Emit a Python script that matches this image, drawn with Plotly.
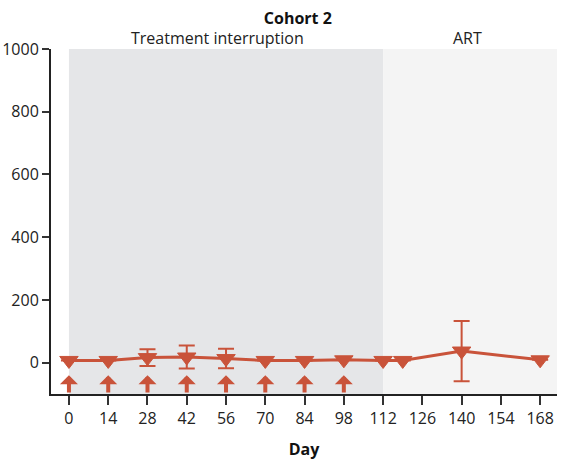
import plotly.graph_objects as go

days = [0, 14, 28, 42, 56, 70, 84, 98, 112, 119, 140, 168]
values = [7, 7, 16, 18, 13, 7, 7, 9, 7, 7, 37, 9]
err = [0, 0, 27, 37, 31, 0, 0, 0, 0, 0, 96, 0]
dose_days = [0, 14, 28, 42, 56, 70, 84, 98]
x_ticks = [0, 14, 28, 42, 56, 70, 84, 98, 112, 126, 140, 154, 168]
y_ticks = [0, 200, 400, 600, 800, 1000]
phases = ["Treatment interruption", "ART"]
phase_bounds = [(0, 112), (112, 174)]
phase_colors = ["#e5e6e8", "#f4f4f4"]

RED = "#c9533a"
FONT = "Open Sans"
YMIN, YMAX = -100, 1000

fig = go.Figure()

for (x0, x1), col in zip(phase_bounds, phase_colors):
    fig.add_shape(type="rect", xref="x", yref="y", x0=x0, x1=x1, y0=YMIN, y1=YMAX,
                  fillcolor=col, line_width=0, layer="below")

fig.add_trace(go.Scatter(
    x=days, y=values, mode="lines+markers",
    line=dict(color=RED, width=3),
    marker=dict(symbol="triangle-down", size=16, color=RED, line=dict(width=1, color=RED)),
    error_y=dict(type="data", array=err, visible=True, color=RED, thickness=2, width=8),
    showlegend=False, cliponaxis=False,
))

for d in dose_days:
    fig.add_annotation(x=d, y=-40, ax=d, ay=YMIN, xref="x", yref="y", axref="x", ayref="y",
                       showarrow=True, arrowhead=1, arrowsize=0.75, arrowwidth=4,
                       arrowcolor=RED, text="")

for (x0, x1), name in zip(phase_bounds, phases):
    fig.add_annotation(x=(x0 + x1) / 2 - (3 if name != "ART" else 1), y=YMAX, xref="x", yref="y",
                       text=name, showarrow=False, yanchor="bottom", yshift=-2,
                       font=dict(family=FONT, size=16, color="#222"))

fig.update_layout(
    width=562, height=460,
    margin=dict(l=51, r=5, t=49, b=66, autoexpand=False),
    paper_bgcolor="white", plot_bgcolor="white",
    title=dict(text="<b>Cohort 2</b>", x=0.53, xanchor="center", y=0.961, yanchor="middle",
               font=dict(family=FONT, size=16, color="#111")),
    font=dict(family=FONT, size=16, color="#222"),
    xaxis=dict(range=[-6.4, 174], tickvals=x_ticks, ticks="outside", ticklen=9,
               tickwidth=1.5, tickcolor="#333", showline=True, linecolor="#222", linewidth=2,
               showgrid=False, zeroline=False, automargin=False,
               title=dict(text="<b>Day</b>", font=dict(family=FONT, size=16, color="#111"), standoff=16)),
    yaxis=dict(range=[YMIN, YMAX], tickvals=y_ticks, ticks="outside", ticklen=7,
               tickwidth=1.5, tickcolor="#333", showline=True, linecolor="#222", linewidth=2,
               showgrid=False, zeroline=False, automargin=False),
)

fig.write_html("out.html", post_script="document.body.style.margin='0';",
               config={"displayModeBar": False})
